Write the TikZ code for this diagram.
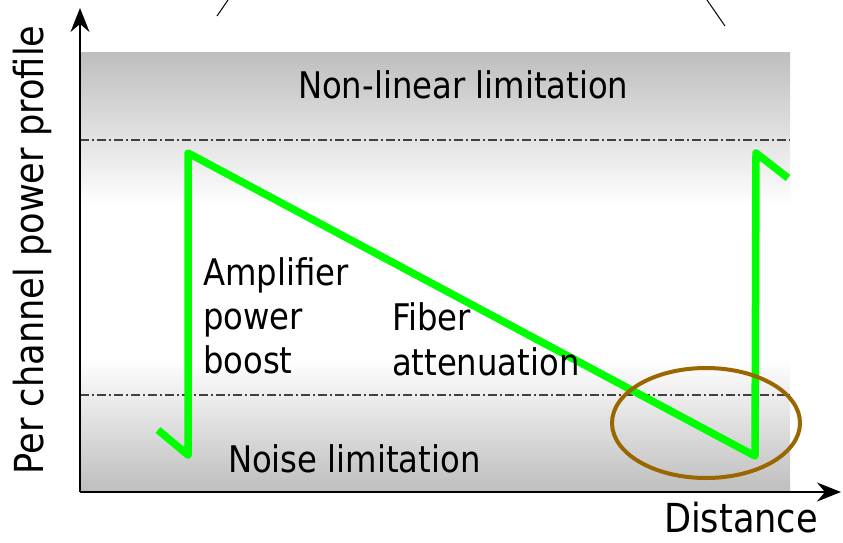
\documentclass[tikz,border=0pt]{standalone}
\usepackage{fontspec}
\setmainfont{DejaVu Sans}[FakeStretch=0.88]
\usetikzlibrary{arrows.meta}
\definecolor{lgreen}{HTML}{00FF00}
\definecolor{ringbrown}{HTML}{996600}
\definecolor{bandgray}{HTML}{BEBEBE}
\definecolor{dashgray}{HTML}{404040}
\tikzset{
  lbl/.style={inner sep=0pt, outer sep=0pt, anchor=base west, font=\fontsize{36.7}{44}\selectfont},
  axlbl/.style={inner sep=0pt, outer sep=0pt, font=\fontsize{40}{48}\selectfont},
  axisline/.style={line width=2pt, -{Stealth[length=24pt,width=19pt,inset=8pt]}},
  limitline/.style={line width=1.4pt, dashgray, dash pattern=on 9pt off 3pt on 2pt off 3pt},
  profile/.style={line width=7.5pt, lgreen, line join=round},
  ring/.style={line width=4pt, ringbrown},
  stray/.style={line width=1pt, black}
}
\begin{document}
\begin{tikzpicture}[x=1pt,y=-1pt]
\useasboundingbox (0,0) rectangle (843,542);
% background bands
\fill[top color=bandgray, bottom color=white] (80,52) rectangle (790,206);
\fill[white] (80,206) rectangle (790,358);
\fill[top color=white, bottom color=bandgray] (80,358) rectangle (790,492);
% limit lines
\draw[limitline] (80,140) -- (790,140);
\draw[limitline] (80,395) -- (790,395);
% axes
\coordinate (O) at (80,492);
\coordinate (ytip) at (80,8);
\coordinate (xtip) at (841,492);
\draw[axisline] (O) -- (ytip);
\draw[axisline] (O) -- (xtip);
% stray lines at top
\coordinate (s1a) at (228,0); \coordinate (s1b) at (217,16);
\coordinate (s2a) at (707,0); \coordinate (s2b) at (725,26);
\draw[stray] (s1a) -- (s1b);
\draw[stray] (s2a) -- (s2b);
% power profile
\coordinate (p0) at (158,430);
\coordinate (p1) at (188,455);
\coordinate (p2) at (188,153);
\coordinate (p3) at (755,456);
\coordinate (p4) at (756,153);
\coordinate (p5) at (788,178);
\draw[profile] (p0) -- (p1) -- (p2) -- (p3) -- (p4) -- (p5);
% highlight ring
\draw[ring] (706,423) ellipse [x radius=94, y radius=55];
% labels
\node[lbl] (nl) at (298,98) {Non-linear limitation};
\node[lbl] (amp1) at (203,285) {Amplifier};
\node[lbl] (amp2) at (203,329) {power};
\node[lbl] (amp3) at (203,373) {boost};
\node[lbl] (fib1) at (392,330) {Fiber};
\node[lbl] (fib2) at (392,375) {attenuation};
\node[lbl] (noise) at (228,472) {Noise limitation};
\node[axlbl, anchor=base west] (dist) at (664,532) {Distance};
\node[axlbl, rotate=90, anchor=base] (ylab) at (43,250) {Per channel power profile};
\end{tikzpicture}
\end{document}
